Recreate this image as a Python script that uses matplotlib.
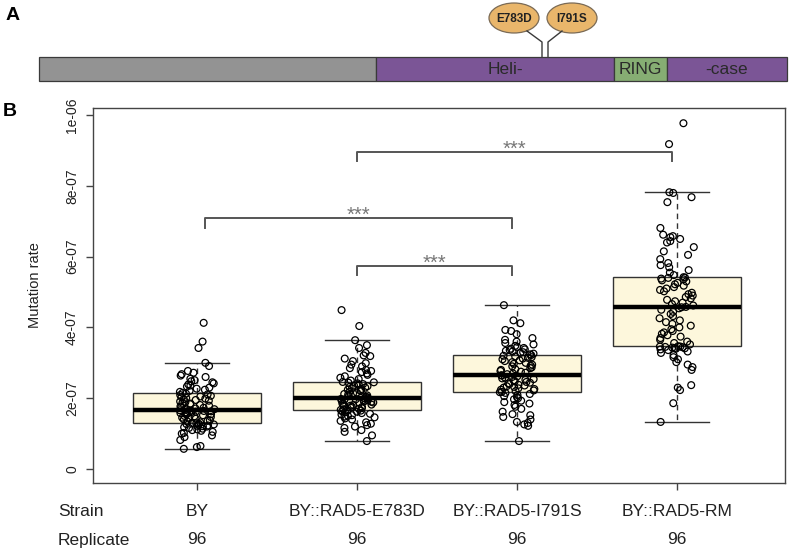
import matplotlib.pyplot as plt
from matplotlib.patches import Rectangle, Ellipse
from matplotlib.transforms import blended_transform_factory
import numpy as np

plt.rcParams['font.family'] = ['Liberation Sans', 'DejaVu Sans']

strains = ['BY', 'BY::RAD5-E783D', 'BY::RAD5-I791S', 'BY::RAD5-RM']
replicates = ['96', '96', '96', '96']

# mutation rate per replicate, in units of 1e-7
rate_by = [0.57, 0.62, 0.65, 0.82, 0.90, 0.95, 1.00, 1.02, 1.05, 1.08, 1.10, 1.12,
           1.14, 1.16, 1.18, 1.20, 1.21, 1.22, 1.23, 1.25, 1.26, 1.27, 1.28, 1.29,
           1.30, 1.32, 1.34, 1.36, 1.38, 1.40, 1.42, 1.44, 1.45, 1.47, 1.49, 1.50,
           1.52, 1.54, 1.55, 1.57, 1.58, 1.60, 1.61, 1.62, 1.63, 1.64, 1.65, 1.66,
           1.67, 1.69, 1.71, 1.73, 1.75, 1.77, 1.79, 1.81, 1.83, 1.85, 1.87, 1.89,
           1.91, 1.93, 1.95, 1.97, 1.99, 2.01, 2.03, 2.05, 2.07, 2.09, 2.11, 2.13,
           2.15, 2.18, 2.21, 2.24, 2.27, 2.30, 2.33, 2.36, 2.39, 2.42, 2.45, 2.48,
           2.51, 2.55, 2.60, 2.64, 2.68, 2.72, 2.77, 2.91, 3.00, 3.42, 3.60, 4.13]
rate_e783d = [0.79, 0.95, 1.05, 1.10, 1.16, 1.20, 1.24, 1.28, 1.32, 1.36, 1.40, 1.43,
              1.46, 1.48, 1.50, 1.52, 1.54, 1.56, 1.58, 1.60, 1.62, 1.63, 1.65, 1.66,
              1.67, 1.69, 1.70, 1.72, 1.73, 1.75, 1.76, 1.78, 1.79, 1.81, 1.82, 1.84,
              1.85, 1.87, 1.88, 1.90, 1.91, 1.93, 1.94, 1.95, 1.96, 1.97, 1.98, 1.99,
              2.00, 2.02, 2.04, 2.06, 2.08, 2.10, 2.12, 2.14, 2.16, 2.18, 2.20, 2.22,
              2.24, 2.26, 2.28, 2.30, 2.32, 2.34, 2.36, 2.38, 2.40, 2.42, 2.44, 2.45,
              2.46, 2.50, 2.54, 2.58, 2.62, 2.66, 2.70, 2.74, 2.77, 2.80, 2.85, 2.90,
              2.95, 2.99, 3.05, 3.12, 3.19, 3.21, 3.28, 3.42, 3.50, 3.64, 4.04, 4.49]
rate_i791s = [0.79, 1.22, 1.26, 1.30, 1.33, 1.40, 1.47, 1.52, 1.55, 1.62, 1.70, 1.76,
              1.81, 1.85, 1.89, 1.93, 1.97, 2.00, 2.03, 2.06, 2.09, 2.12, 2.15, 2.17,
              2.18, 2.20, 2.22, 2.24, 2.26, 2.28, 2.30, 2.32, 2.34, 2.36, 2.38, 2.40,
              2.42, 2.44, 2.46, 2.48, 2.50, 2.52, 2.54, 2.56, 2.58, 2.60, 2.62, 2.64,
              2.65, 2.68, 2.70, 2.72, 2.75, 2.77, 2.80, 2.82, 2.85, 2.87, 2.90, 2.92,
              2.95, 2.97, 3.00, 3.02, 3.05, 3.07, 3.10, 3.12, 3.14, 3.16, 3.18, 3.20,
              3.22, 3.24, 3.26, 3.28, 3.30, 3.32, 3.34, 3.36, 3.38, 3.40, 3.42, 3.45,
              3.48, 3.52, 3.56, 3.60, 3.65, 3.70, 3.81, 3.90, 3.93, 4.12, 4.20, 4.63]
rate_rm = [1.33, 1.86, 2.23, 2.30, 2.37, 2.80, 2.88, 2.95, 3.02, 3.10, 3.16, 3.22,
           3.28, 3.32, 3.36, 3.38, 3.40, 3.41, 3.42, 3.43, 3.44, 3.45, 3.46, 3.46,
           3.47, 3.52, 3.56, 3.60, 3.65, 3.70, 3.74, 3.78, 3.82, 3.86, 3.90, 3.95,
           4.00, 4.05, 4.10, 4.15, 4.20, 4.26, 4.32, 4.38, 4.44, 4.50, 4.54, 4.57,
           4.58, 4.62, 4.66, 4.70, 4.74, 4.78, 4.82, 4.86, 4.90, 4.94, 4.98, 5.02,
           5.06, 5.10, 5.14, 5.18, 5.22, 5.26, 5.30, 5.33, 5.36, 5.38, 5.40, 5.41,
           5.42, 5.48, 5.55, 5.62, 5.70, 5.76, 5.82, 5.93, 6.05, 6.15, 6.27, 6.40,
           6.44, 6.50, 6.55, 6.58, 6.62, 7.80, 6.81, 7.54, 7.68, 7.82, 9.18, 9.77]

# box summaries (units of 1e-7)
box_med = [1.67, 2.00, 2.65, 4.58]
box_q1 = [1.30, 1.67, 2.18, 3.47]
box_q3 = [2.15, 2.46, 3.22, 5.42]
whisk_lo = [0.57, 0.79, 0.79, 1.33]
whisk_hi = [3.00, 3.64, 4.63, 7.82]

# significance brackets
sig_left = [1.05, 2.0, 2.0]
sig_right = [2.97, 2.97, 3.97]
sig_height = [7.09, 5.73, 8.95]
sig_drop = [0.28, 0.25, 0.25]
sig_label = ['***', '***', '***']

# protein diagram (panel A), pixel positions along the bar
domain_start = [39, 376, 614, 667]
domain_end = [376, 614, 667, 787]
domain_name = ['', 'Heli-', 'RING', '-case']
domain_color = ['#939393', '#7b5596', '#86ad73', '#7b5596']
mutations = ['E783D', 'I791S']

W, H = 792, 552
fig = plt.figure(figsize=(W / 100, H / 100), dpi=100)

# ---- panel A, drawn in pixel coords ----
axA = fig.add_axes([0, 0, 1, 1])
axA.set_xlim(0, W)
axA.set_ylim(H, 0)
axA.set_axis_off()
for s, e, name, c in zip(domain_start, domain_end, domain_name, domain_color):
    axA.add_patch(Rectangle((s, 57), e - s, 24, facecolor=c, edgecolor='#3a3a3a', lw=0.9))
    if name:
        cx = (s + e) / 2 + (10 if name == 'Heli-' else 0)
        axA.text(cx, 70, name, ha='center', va='center', fontsize=12.5, color='#2a2a2a')
# mutation stems and labels
axA.plot([527, 542, 542], [31, 42, 57], color='#3a3a3a', lw=1)
axA.plot([562, 548, 548], [31, 42, 57], color='#3a3a3a', lw=1)
for cx, lab in zip([514, 572], mutations):
    axA.add_patch(Ellipse((cx, 18), 50, 30, facecolor='#e9b66b', edgecolor='#7a6a55', lw=0.9))
    axA.text(cx, 18.5, lab, ha='center', va='center', fontsize=8.5, fontweight='bold', color='#222')
axA.text(6, 15, 'A', fontsize=14, fontweight='bold', va='center', ha='left')
axA.text(3, 112, 'B', fontsize=14, fontweight='bold', va='center', ha='left')

# ---- panel B ----
ax = fig.add_axes([93 / W, 1 - 483 / H, (785 - 93) / W, (483 - 108) / H])
pos = [1, 2, 3, 4]
stats = []
for m, a, b, lo, hi in zip(box_med, box_q1, box_q3, whisk_lo, whisk_hi):
    stats.append(dict(med=m, q1=a, q3=b, whislo=lo, whishi=hi, fliers=[]))
ax.bxp(stats, positions=pos, widths=0.8, showfliers=False, patch_artist=True,
       capwidths=0.4,
       boxprops=dict(facecolor='#fdf7dc', edgecolor='#333333', lw=1),
       medianprops=dict(color='black', lw=3.2, solid_capstyle='butt'),
       whiskerprops=dict(color='#333333', lw=1, ls=(0, (4, 3))),
       capprops=dict(color='#333333', lw=1))

# horizontal jitter of the points (like R's jitter)
rng = np.random.default_rng(11)
for k, vals in enumerate([rate_by, rate_e783d, rate_i791s, rate_rm]):
    jit = rng.uniform(-0.11, 0.11, len(vals))
    ax.scatter(pos[k] + jit, vals, s=24, facecolors='none', edgecolors='black',
               linewidths=0.9, zorder=4)

for x1, x2, h, d, lab in zip(sig_left, sig_right, sig_height, sig_drop, sig_label):
    ax.plot([x1, x1, x2, x2], [h - d, h, h, h - d], color='#555555', lw=1.4)
    ax.text((x1 + x2) / 2, h - 0.08, lab, ha='center', va='baseline', fontsize=14.5, color='#777777')

ax.set_xlim(0.351, 4.674)
ax.set_ylim(-0.395, 10.2)
ax.set_yticks([0, 2, 4, 6, 8, 10])
ax.set_yticklabels(['0', '2e-07', '4e-07', '6e-07', '8e-07', '1e-06'],
                   rotation=90, va='center', fontsize=10, color='#222')
ax.set_xticks(pos)
ax.set_xticklabels([])
ax.tick_params(axis='both', length=5, width=1, color='#444444', direction='out')
ax.tick_params(axis='y', pad=5)
for sp in ax.spines.values():
    sp.set_color('#444444')
    sp.set_linewidth(1)

fig.text(35 / W, 1 - 285 / H, 'Mutation rate', rotation=90, ha='center', va='center',
         fontsize=10.5, color='#222')

# strain / replicate table under the axis
tr = blended_transform_factory(ax.transData, fig.transFigure)
fig.text(58 / W, 1 - 512 / H, 'Strain', ha='left', va='center', fontsize=12.5, color='#222')
fig.text(58 / W, 1 - 540 / H, 'Replicate', ha='left', va='center', fontsize=12.5, color='#222')
for p, s, r in zip(pos, strains, replicates):
    ax.text(p, 1 - 512 / H, s, transform=tr, ha='center', va='center', fontsize=12.5, color='#222')
    ax.text(p, 1 - 540 / H, r, transform=tr, ha='center', va='center', fontsize=12.5, color='#222')

fig.savefig('out.png', dpi=100)
